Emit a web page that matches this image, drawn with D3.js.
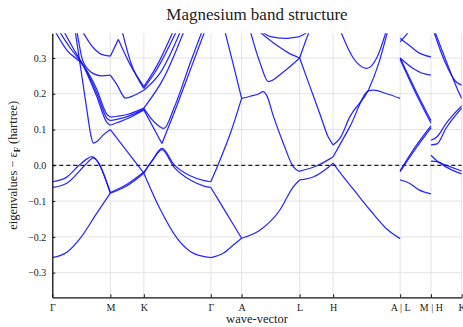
<!DOCTYPE html>
<html>
<head>
<meta charset="UTF-8">
<title>Magnesium band structure</title>
<script src="https://cdn.jsdelivr.net/npm/d3@7/dist/d3.min.js"></script>
<style>
  body { margin: 0; background: #fff; }
  svg text { font-family: "Liberation Serif", "DejaVu Serif", serif; fill: #222; }
</style>
</head>
<body>
<div id="chart"></div>
<script>
// k-path: segment lengths (units of pi/a) and tick labels
var segLengths = [1.1547, 0.6667, 1.3333, 0.6124, 1.1547, 0.6667, 1.3333, 0.6124, 0.6124];
var tickLabels = ["Γ", "M", "K", "Γ", "A", "L", "H", "A | L", "M | H", "K"];
var yTicks = [-0.3, -0.2, -0.1, 0.0, 0.1, 0.2, 0.3];
var fermiLevel = 0.0;

// each band: [fraction along segment, eigenvalue - eF (hartree)]
var bandsGM = [
  [[0, -0.258], [0.25, -0.243], [0.5, -0.2], [0.75, -0.138], [1, -0.078]],
  [[0, -0.046], [0.25, -0.033], [0.46, 0], [0.6, 0.018], [0.68, 0.024], [1, -0.078]],
  [[0, -0.062], [0.25, -0.05], [0.56, 0], [0.66, 0.016], [0.7, 0.021], [1, -0.076]],
  [[0.39, 0.38], [0.5, 0.26], [0.6, 0.15], [0.67, 0.08], [0.71, 0.062], [0.78, 0.068], [0.88, 0.085], [1, 0.1]],
  [[0.03, 0.38], [0.25, 0.322], [0.53, 0.28], [0.76, 0.215], [0.94, 0.143], [1, 0.135]],
  [[0.1, 0.38], [0.3, 0.33], [0.53, 0.28], [0.76, 0.205], [0.94, 0.132], [1, 0.125]],
  [[0.18, 0.38], [0.35, 0.33], [0.53, 0.28], [0.76, 0.195], [0.94, 0.12], [1, 0.112]],
  [[0.42, 0.38], [0.53, 0.29], [0.7, 0.257], [0.85, 0.25], [1, 0.252]],
  [[0.5, 0.38], [0.7, 0.33], [0.85, 0.31], [1, 0.305]]
];
var bandsMK = [
  [[0, -0.078], [0.5, -0.057], [1, -0.022]],
  [[0, -0.076], [0.5, -0.053], [1, -0.019]],
  [[0, 0.1], [1, -0.022]],
  [[0, 0.135], [0.5, 0.142], [1, 0.16]],
  [[0, 0.125], [0.5, 0.136], [1, 0.157]],
  [[0, 0.112], [0.5, 0.13], [1, 0.155]],
  [[0, 0.252], [0.2, 0.225], [0.45, 0.188], [0.7, 0.195], [1, 0.21]],
  [[0, 0.305], [0.24, 0.352]],
  [[0.24, 0.352], [0.6, 0.28], [1, 0.22]],
  [[0.34, 0.38], [0.6, 0.29], [1, 0.215]]
];
var bandsKG = [
  [[0, -0.022], [0.13, 0.015], [0.27, 0.047], [0.45, 0.002], [0.7, -0.03], [0.9, -0.043], [1, -0.046]],
  [[0, -0.02], [0.13, 0.014], [0.27, 0.044], [0.45, -0.005], [0.7, -0.042], [0.9, -0.058], [1, -0.062]],
  [[0, -0.022], [0.25, -0.125], [0.5, -0.205], [0.75, -0.247], [1, -0.258]],
  [[0, 0.155], [0.27, 0.061]],
  [[0.27, 0.061], [0.5, 0.17], [0.72, 0.28], [0.92, 0.38]],
  [[0, 0.159], [0.15, 0.122], [0.3, 0.103], [0.45, 0.16], [0.7, 0.29], [0.88, 0.38]],
  [[0, 0.22], [0.2, 0.28], [0.45, 0.38]],
  [[0, 0.215], [0.2, 0.27], [0.5, 0.38]],
  [[0, 0.21], [0.25, 0.26], [0.56, 0.38]],
  [[0, 0.16], [0.3, 0.245], [0.61, 0.38]]
];
var bandsGA = [
  [[0, -0.046], [0.3, 0.015], [0.65, 0.093], [1, 0.187]],
  [[0.44, 0.38], [0.72, 0.285], [1, 0.187]],
  [[0, -0.062], [0.5, -0.133], [1, -0.204]],
  [[0, -0.258], [0.4, -0.246], [0.73, -0.223], [1, -0.204]]
];
var bandsAL = [
  [[0, 0.187], [0.15, 0.193], [0.3, 0.2], [0.37, 0.206], [0.43, 0.196], [0.55, 0.136], [0.72, 0.061], [0.89, -0.004], [1, -0.018]],
  [[0, -0.204], [0.32, -0.181], [0.66, -0.125], [0.89, -0.06], [1, -0.041]],
  [[0.14, 0.38], [0.32, 0.285], [0.46, 0.234], [0.72, 0.261], [1, 0.3]],
  [[0.26, 0.38], [0.6, 0.336], [0.8, 0.315], [1, 0.3]],
  [[0.29, 0.38], [0.5, 0.36], [0.75, 0.355], [1, 0.36]]
];
var bandsLH = [
  [[0, -0.016], [0.5, -0.002], [0.9, 0.018], [1, 0.024]],
  [[0, -0.041], [0.42, -0.032], [0.82, -0.008], [1, 0.006]],
  [[0, 0.3], [0.3, 0.222], [0.6, 0.145], [0.85, 0.08], [1, 0.057]],
  [[0, 0.3], [0.15, 0.34], [0.31, 0.38]],
  [[0, 0.36], [0.27, 0.375], [0.4, 0.385]]
];
var bandsHA = [
  [[0, 0.006], [0.11, -0.022], [0.31, -0.069], [0.55, -0.125], [0.8, -0.178], [1, -0.205]],
  [[0, 0.024], [0.25, 0.108], [0.53, 0.208], [0.6, 0.21], [0.8, 0.2], [1, 0.187]],
  [[0, 0.057], [0.1, 0.075], [0.25, 0.136], [0.53, 0.212], [0.68, 0.285], [0.82, 0.38]],
  [[0.1, 0.38], [0.3, 0.3], [0.5, 0.271], [0.65, 0.3], [0.8, 0.38]]
];
var bandsLM = [
  [[0, -0.041], [0.3, -0.05], [0.6, -0.068], [1, -0.08]],
  [[0, -0.018], [0.4, 0.034], [1, 0.105]],
  [[0, -0.015], [0.4, 0.04], [1, 0.11]],
  [[0, 0.3], [0.5, 0.21], [1, 0.125]],
  [[0, 0.296], [0.5, 0.203], [1, 0.118]],
  [[0, 0.3], [0.4, 0.272], [0.7, 0.258], [1, 0.252]],
  [[0, 0.355], [0.3, 0.335], [0.6, 0.315], [1, 0.303]],
  [[0, 0.345], [0.35, 0.38]]
];
var bandsHK = [
  [[0, 0.028], [0.2, 0.012], [0.5, -0.005], [1, -0.024]],
  [[0, 0.012], [0.2, 0.01], [0.5, 0.0], [1, -0.016]],
  [[0, 0.057], [0.2, 0.06], [0.5, 0.105], [1, 0.16]],
  [[0, 0.07], [0.2, 0.08], [0.5, 0.118], [1, 0.166]],
  [[0.07, 0.38], [0.45, 0.29], [0.8, 0.235], [1, 0.224]],
  [[0.1, 0.38], [0.5, 0.29], [0.85, 0.215], [1, 0.187]]
];
var segmentBands = [bandsGM, bandsMK, bandsKG, bandsGA, bandsAL, bandsLH, bandsHA, bandsLM, bandsHK];

//-----------------------------------------
var width = 463, height = 327;
var margin = {left: 52.3, right: 1.3, top: 33.3, bottom: 29.7};

var kTicks = [0].concat(Array.from(d3.cumsum(segLengths)));
var x = d3.scaleLinear()
        .domain([0, kTicks[kTicks.length - 1]])
        .range([margin.left, width - margin.right]);
var y = d3.scaleLinear()
        .domain([-0.369, 0.369])
        .range([height - margin.bottom, margin.top]);

var svg = d3.select("#chart").append("svg")
        .attr("width", width)
        .attr("height", height);

svg.append("clipPath").attr("id", "plotclip")
        .append("rect")
        .attr("x", margin.left).attr("y", margin.top)
        .attr("width", width - margin.left - margin.right)
        .attr("height", height - margin.top - margin.bottom);

// grid
svg.append("g").selectAll("line.vgrid").data(kTicks).enter()
        .append("line")
        .attr("x1", function (d) { return x(d); })
        .attr("x2", function (d) { return x(d); })
        .attr("y1", margin.top).attr("y2", height - margin.bottom)
        .attr("stroke", "#e0e0e0").attr("stroke-width", 0.9);
svg.append("g").selectAll("line.hgrid").data(yTicks).enter()
        .append("line")
        .attr("x1", margin.left).attr("x2", width - margin.right)
        .attr("y1", function (d) { return y(d); })
        .attr("y2", function (d) { return y(d); })
        .attr("stroke", "#e0e0e0").attr("stroke-width", 0.9);

// bands
var line = d3.line().curve(d3.curveMonotoneX);
var bandLayer = svg.append("g").attr("clip-path", "url(#plotclip)");
segmentBands.forEach(function (bands, i) {
    var k0 = kTicks[i], len = segLengths[i];
    bandLayer.selectAll(null).data(bands).enter()
            .append("path")
            .attr("d", function (band) {
                return line(band.map(function (p) { return [x(k0 + p[0] * len), y(p[1])]; }));
            })
            .attr("fill", "none")
            .attr("stroke", "#1010ff")
            .attr("stroke-opacity", 0.9)
            .attr("stroke-width", 1.25);
});

// Fermi level
bandLayer.append("line")
        .attr("x1", margin.left).attr("x2", width - margin.right)
        .attr("y1", y(fermiLevel)).attr("y2", y(fermiLevel))
        .attr("stroke", "#222").attr("stroke-width", 1.2)
        .attr("stroke-dasharray", "4,3");

// axes
var xAxis = d3.axisBottom(x).tickValues(kTicks)
        .tickFormat(function (d, i) { return tickLabels[i]; })
        .tickSizeInner(-3).tickSizeOuter(0).tickPadding(7);
var yAxis = d3.axisLeft(y).tickValues(yTicks)
        .tickFormat(function (d) { return d3.format(".1f")(d).replace("-", "−"); })
        .tickSizeInner(-3).tickSizeOuter(0).tickPadding(6);

var gx = svg.append("g")
        .attr("transform", "translate(0," + (height - margin.bottom) + ")")
        .call(xAxis);
var gy = svg.append("g")
        .attr("transform", "translate(" + margin.left + ",0)")
        .call(yAxis);
[gx, gy].forEach(function (g) {
    g.select(".domain").attr("stroke", "#111").attr("stroke-width", 1.3);
    g.selectAll(".tick line").attr("stroke", "#111").attr("stroke-width", 1);
    g.selectAll(".tick text")
            .style("font-family", "'Liberation Serif', serif")
            .style("font-size", "10px")
            .attr("fill", "#333");
});

// labels
svg.append("text")
        .attr("x", (margin.left + width - margin.right) / 2)
        .attr("y", 20)
        .attr("text-anchor", "middle")
        .style("font-size", "17px")
        .text("Magnesium band structure");

svg.append("text")
        .attr("x", (margin.left + width - margin.right) / 2)
        .attr("y", 323)
        .attr("text-anchor", "middle")
        .style("font-size", "12.5px")
        .text("wave-vector");

var ylab = svg.append("text")
        .attr("transform", "translate(17," + y(0) + ") rotate(-90)")
        .attr("text-anchor", "middle")
        .style("font-size", "12.5px");
ylab.append("tspan").text("eigenvalues − ε");
ylab.append("tspan").attr("dy", 2.5).style("font-size", "8.5px")
        .style("font-weight", "bold").text("F");
ylab.append("tspan").attr("dy", -2.5).text(" (hartree)");
</script>
</body>
</html>
